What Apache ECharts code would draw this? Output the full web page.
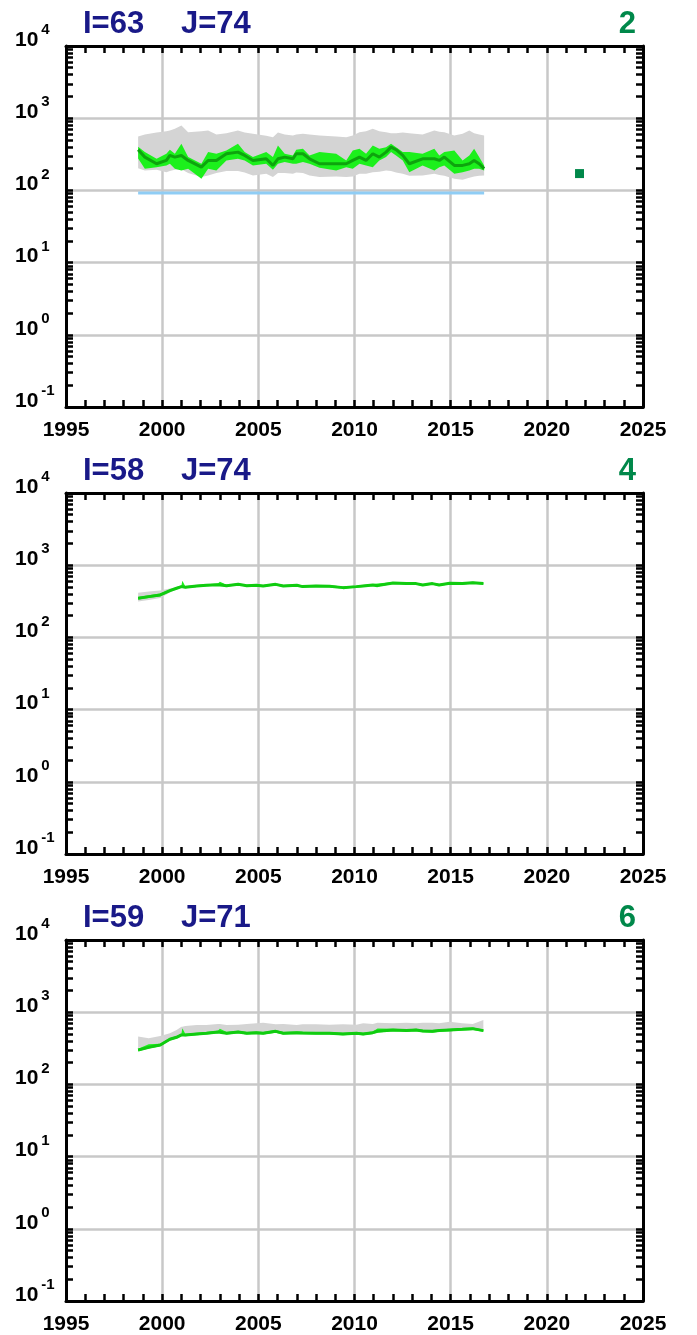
<!DOCTYPE html>
<html><head><meta charset="utf-8">
<script src="https://cdn.jsdelivr.net/npm/echarts@6/dist/echarts.min.js"></script>
<style>html,body{margin:0;padding:0;background:#fff}#c{width:697px;height:1335px}</style>
</head><body><div id="c"></div>
<script>
// ---------- data ----------
const titlesI = ['I=63', 'I=58', 'I=59'];
const titlesJ = ['J=74', 'J=74', 'J=71'];
const panelNumbers = ['2', '4', '6'];

// panel 1 (I=63 J=74)
const years1 = [1998.75,1999.10,1999.71,2000.22,2000.40,2000.66,2001.00,2001.35,2002.04,2002.39,2002.82,2003.34,2003.94,2004.29,2004.72,2005.41,2005.76,2006.02,2006.37,2006.80,2006.97,2007.32,2007.66,2008.18,2009.05,2009.57,2009.91,2010.26,2010.60,2010.95,2011.29,2011.64,2011.90,2012.16,2012.51,2012.85,2013.54,2014.15,2014.41,2014.67,2015.19,2015.62,2015.97,2016.22,2016.48,2016.74];
const center1  = [366,289,234,260,305,289,305,260,210,260,260,322,339,305,260,274,222,274,289,274,322,322,274,234,234,234,260,289,260,322,289,339,397,366,305,234,274,274,260,289,222,222,234,260,234,200];
const greenHi1 = [402,339,274,321,365,321,442,289,234,339,321,357,442,339,289,339,289,419,321,305,365,377,305,339,321,260,357,377,321,419,377,397,442,397,339,339,321,377,305,339,357,260,305,377,289,222];
const greenLo1 = [277,200,210,222,234,200,189,200,145,200,189,260,274,260,222,234,193,234,247,234,234,247,234,206,189,210,200,234,222,210,260,289,339,305,260,179,222,189,210,222,170,179,189,200,200,189];
const grayHi1  = [560,595,634,661,676,713,793,641,661,676,595,621,676,634,608,570,546,634,595,576,595,608,595,576,558,546,576,641,661,713,661,641,621,621,634,621,595,676,647,641,576,608,676,621,595,576];
const grayLo1  = [202,189,193,179,185,193,197,174,153,161,174,185,185,177,161,170,153,174,174,170,177,174,161,153,156,153,156,170,170,179,181,189,185,177,170,160,161,170,163,160,145,140,150,156,160,161];
const blueYears1 = [1998.75, 2016.74];
const blueValues1 = [92, 92];
const markerYears1 = [2021.7];
const markerValues1 = [171];

// panels 2 and 3 share the time points
const years23 = [1998.75,1999.3,1999.9,2000.4,2000.75,2001.0,2001.05,2001.2,2001.8,2002.3,2002.9,2003.0,2003.35,2003.95,2004.4,2004.9,2005.25,2005.9,2006.3,2007.0,2007.3,2008.0,2008.7,2009.4,2010.1,2010.45,2010.95,2011.2,2012.0,2012.7,2013.2,2013.55,2014.05,2014.4,2014.95,2015.6,2016.15,2016.7];

// panel 2 (I=58 J=74)
const center2  = [348,367,387,445,479,505,515,494,516,527,538,555,521,543,521,527,516,543,516,527,505,516,510,489,505,516,532,521,567,556,556,532,556,532,561,556,573,556];
const greenHi2 = [362,385,405,462,495,525,610,510,532,543,556,590,537,560,537,543,532,560,532,543,521,532,526,505,521,532,550,560,585,573,573,549,573,549,578,573,590,573];
const greenLo2 = [335,352,372,430,465,490,500,480,500,511,522,535,505,527,505,511,500,527,500,511,490,500,495,474,490,500,516,505,550,540,540,516,540,516,545,540,556,540];
const grayHi2  = [417,431,445,475,500,525,540,515,535,546,557,570,540,562,540,546,535,562,535,546,524,535,529,508,524,535,551,540,587,576,576,551,576,551,581,576,593,576];
const grayLo2  = [313,330,350,420,460,488,500,478,498,510,520,536,504,526,504,510,498,526,498,510,488,498,493,472,488,498,514,504,548,538,538,514,538,514,543,538,554,538];

// panel 3 (I=59 J=71)
const center3  = [300,326,352,422,449,484,490,484,499,510,532,545,510,532,510,521,510,543,510,521,515,510,510,499,510,499,521,545,567,556,567,550,543,556,567,579,592,556];
const greenHi3 = [312,360,366,440,467,503,600,503,519,530,553,590,530,553,530,542,530,565,530,542,535,530,530,519,530,519,542,595,590,578,590,572,565,578,590,602,616,578];
const greenLo3 = [288,313,338,405,431,465,470,465,479,490,511,523,490,511,490,500,490,521,490,500,494,490,490,479,490,479,500,523,544,534,544,528,521,534,544,556,568,534];
const grayHi3  = [459,435,469,510,565,631,631,645,665,665,687,687,665,672,687,702,717,680,687,665,680,680,672,680,672,702,687,717,702,717,702,717,717,702,740,702,687,780];
const grayLo3  = [318,340,365,430,455,480,485,480,495,505,525,535,505,525,505,515,505,535,505,515,508,505,505,494,505,494,515,535,560,550,560,543,537,550,560,572,585,550];

// ---------- build chart ----------
const panels = [
  {years: years1, center: center1, gLo: greenLo1, gHi: greenHi1, yLo: grayLo1, yHi: grayHi1},
  {years: years23, center: center2, gLo: greenLo2, gHi: greenHi2, yLo: grayLo2, yHi: grayHi2},
  {years: years23, center: center3, gLo: greenLo3, gHi: greenHi3, yLo: grayLo3, yHi: grayHi3}
];
const GRID_TOP = [46, 493, 940];
const GRID_H = 361, GRID_L = 66, GRID_W = 577;

// tick positions for the log decades (minor ticks 1..9 per decade), in log10 units
const logTicks = [];
for (let n = -1; n < 4; n++) for (let k = 1; k < 10; k++) logTicks.push(n + Math.log10(k));
logTicks.push(4);

const FONT = 'Liberation Sans, Arial, sans-serif';
const BLACK = '#000';
const GRIDC = '#c8c8c8';

const grid = [], xAxis = [], yAxis = [], series = [], title = [];

function band(pts, color) {
  return function (params, api) {
    if (params.dataIndex !== 0) return null;
    const up = pts.map(p => api.coord([p[0], p[2]]));
    const lo = pts.map(p => api.coord([p[0], p[1]])).reverse();
    return {type: 'polygon', shape: {points: up.concat(lo)}, style: {fill: color}, silent: true};
  };
}

panels.forEach((p, i) => {
  const top = GRID_TOP[i];
  grid.push({left: GRID_L, top: top, width: GRID_W, height: GRID_H});
  title.push({text: titlesI[i], left: 83, top: top - 37, padding: 0,
    textStyle: {fontFamily: FONT, fontSize: 31, fontWeight: 'bold', color: '#191988'}});
  title.push({text: titlesJ[i], left: 181, top: top - 37, padding: 0,
    textStyle: {fontFamily: FONT, fontSize: 31, fontWeight: 'bold', color: '#191988'}});
  title.push({text: panelNumbers[i], right: 61, top: top - 37, padding: 0,
    textStyle: {fontFamily: FONT, fontSize: 31, fontWeight: 'bold', color: '#00884a'}});

  const tickCommon = {inside: true, length: 7, lineStyle: {color: BLACK, width: 2.5}};
  const minorCommon = {show: true, splitNumber: 5, length: 7, lineStyle: {color: BLACK, width: 2.5}};
  xAxis.push({type: 'value', gridIndex: i, min: 1995, max: 2025, interval: 5, position: 'bottom',
    axisLine: {onZero: false, lineStyle: {color: BLACK, width: 3}},
    axisTick: tickCommon, minorTick: minorCommon,
    splitLine: {show: true, lineStyle: {color: GRIDC, width: 2.5}},
    axisLabel: {fontFamily: FONT, fontSize: 21, fontWeight: 'bold', color: BLACK, margin: 13,
      formatter: v => String(v)}});
  xAxis.push({type: 'value', gridIndex: i, min: 1995, max: 2025, interval: 5, position: 'top',
    axisLine: {onZero: false, lineStyle: {color: BLACK, width: 3}},
    axisTick: tickCommon, minorTick: minorCommon,
    splitLine: {show: false}, axisLabel: {show: false}});

  yAxis.push({type: 'log', logBase: 10, gridIndex: i, min: 0.1, max: 10000, position: 'left',
    axisLine: {onZero: false, lineStyle: {color: BLACK, width: 3}},
    axisTick: {show: false},
    splitLine: {show: true, lineStyle: {color: GRIDC, width: 2.5}},
    axisLabel: {margin: 51, align: 'left', verticalAlign: 'middle',
      formatter: v => '{b|10}{s|' + Math.round(Math.log10(v)) + '}{d| }',
      rich: {
        b: {fontFamily: FONT, fontSize: 21, fontWeight: 'bold', color: BLACK, lineHeight: 21, verticalAlign: 'top', padding: [7, 0, 0, 0]},
        s: {fontFamily: FONT, fontSize: 15, fontWeight: 'bold', color: BLACK, lineHeight: 15, verticalAlign: 'top', padding: [0, 0, 0, 3]},
        d: {fontSize: 1, lineHeight: 47}
      }}});
  yAxis.push({type: 'value', gridIndex: i, min: -1, max: 4, position: 'left',
    axisLine: {show: false, onZero: false}, axisLabel: {show: false}, splitLine: {show: false},
    axisTick: {show: true, inside: true, length: 7, customValues: logTicks, lineStyle: {color: BLACK, width: 2.5}}});
  yAxis.push({type: 'value', gridIndex: i, min: -1, max: 4, position: 'right',
    axisLine: {show: true, onZero: false, lineStyle: {color: BLACK, width: 3}}, axisLabel: {show: false}, splitLine: {show: false},
    axisTick: {show: true, inside: true, length: 7, customValues: logTicks, lineStyle: {color: BLACK, width: 2.5}}});

  const xi = 2 * i, yi = 3 * i;
  const grayPts = p.years.map((y, k) => [y, p.yLo[k], p.yHi[k]]);
  const greenPts = p.years.map((y, k) => [y, p.gLo[k], p.gHi[k]]);
  series.push({type: 'custom', xAxisIndex: xi, yAxisIndex: yi, z: 2, silent: true,
    encode: {x: 0, y: [1, 2]}, data: grayPts, renderItem: band(grayPts, '#d4d4d4')});
  series.push({type: 'custom', xAxisIndex: xi, yAxisIndex: yi, z: 3, silent: true,
    encode: {x: 0, y: [1, 2]}, data: greenPts, renderItem: band(greenPts, '#1cf01c')});
  series.push({type: 'line', xAxisIndex: xi, yAxisIndex: yi, z: 4, symbol: 'none', silent: true,
    data: p.years.map((y, k) => [y, p.center[k]]),
    lineStyle: {color: i === 0 ? '#0ea40e' : '#10cc10', width: 3}});
  if (i === 0) {
    series.push({type: 'line', xAxisIndex: xi, yAxisIndex: yi, z: 4, symbol: 'none', silent: true,
      data: blueYears1.map((y, k) => [y, blueValues1[k]]),
      lineStyle: {color: '#8fcdf5', width: 3}});
    series.push({type: 'scatter', xAxisIndex: xi, yAxisIndex: yi, z: 5, silent: true,
      symbol: 'rect', symbolSize: 9, itemStyle: {color: '#00884a', opacity: 1},
      data: markerYears1.map((y, k) => [y, markerValues1[k]])});
  }
});

const chart = echarts.init(document.getElementById('c'), null, {renderer: 'canvas'});
chart.setOption({animation: false, backgroundColor: '#fff', title, grid, xAxis, yAxis, series});
</script></body></html>
